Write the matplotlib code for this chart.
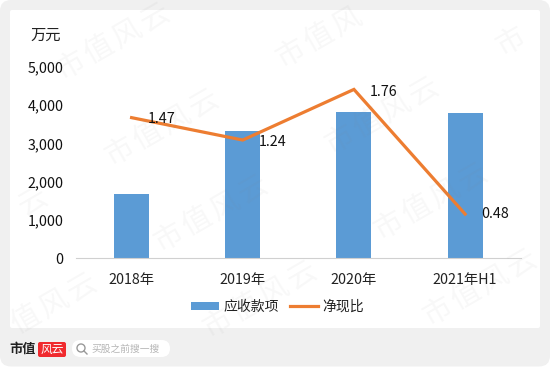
## receivables bars + cash ratio line ##

import math
import matplotlib
matplotlib.use('Agg')
import matplotlib.pyplot as plt
from matplotlib.patches import FancyBboxPatch, Circle
from matplotlib.lines import Line2D

plt.rcParams['font.family'] = ['Noto Sans CJK SC', 'DejaVu Sans']

years = ['2018年', '2019年', '2020年', '2021年H1']
receivables = [1675, 3325, 3830, 3795]
cash_ratio = [1.47, 1.24, 1.76, 0.48]
y_ticks = [0, 1000, 2000, 3000, 4000, 5000]

W, H = 550, 367
fig = plt.figure(figsize=(5.5, 3.67), dpi=100, facecolor='white')

# page background, in pixel coords
bg = fig.add_axes([0, 0, 1, 1], zorder=-1)
bg.set_xlim(0, W)
bg.set_ylim(H, 0)
bg.axis('off')
bg.add_patch(FancyBboxPatch((0, 0), 550, 366.5, boxstyle='round,pad=0,rounding_size=11', lw=0, fc='#f0f0f0'))
bg.add_patch(FancyBboxPatch((10, 10), 530, 318, boxstyle='round,pad=0,rounding_size=2', lw=0, fc='white'))

# footer
bg.text(23, 349, '市值', fontsize=9.5, fontweight='bold', color='#222222', ha='center', va='center')
bg.add_patch(FancyBboxPatch((38, 342), 28, 15, boxstyle='round,pad=0,rounding_size=2', lw=0, fc='#f02a2e'))
bg.text(52, 349, '风云', fontsize=8.5, color='white', ha='center', va='center')
bg.add_patch(FancyBboxPatch((72, 340), 98, 17, boxstyle='round,pad=0,rounding_size=8.5', lw=0, fc='white'))
bg.add_patch(Circle((81, 348), 4, fill=False, ec='#999999', lw=1))
bg.add_line(Line2D([84, 87], [351, 354], color='#999999', lw=1))
bg.text(126, 349, '买股之前搜一搜', fontsize=7, color='#b5b5b5', ha='center', va='center')

# main chart
left, right, top, bottom = 76, 520.7, 67, 258
ax = fig.add_axes([left / W, 1 - bottom / H, (right - left) / W, (bottom - top) / H], zorder=1)
ax.patch.set_alpha(0)
xs = list(range(len(years)))
bars = ax.bar(xs, receivables, width=0.315, color='#5B9BD5', label='应收款项')
ax.set_xlim(-0.5, 3.5)
ax.set_ylim(0, 5000)
ax.set_yticks(y_ticks)
ax.set_yticklabels(['{:,}'.format(v) for v in y_ticks], fontsize=10.3, color='#111111')
ax.set_xticks(xs)
ax.set_xticklabels(years, fontsize=10.3, color='#222222')
ax.tick_params(axis='y', length=0, pad=9)
ax.tick_params(axis='x', length=0, pad=11)
for s in ['top', 'right', 'left']:
    ax.spines[s].set_visible(False)
ax.spines['bottom'].set_color('#d0d0d0')
ax.spines['bottom'].set_linewidth(0.8)

ax2 = ax.twinx()
ax2.set_zorder(2)
ax2.patch.set_alpha(0)
line, = ax2.plot(xs, cash_ratio, color='#ED7D31', lw=2.3, label='净现比', solid_joinstyle='miter')
ax2.set_ylim(0.029, 1.99)
ax2.axis('off')

offsets = [(21.6, -1), (21.6, -1.5), (21.6, -2), (21.6, 0)]
for x, v, off in zip(xs, cash_ratio, offsets):
    ax2.annotate('%.2f' % v, (x, v), xytext=off, textcoords='offset points',
                 fontsize=10.3, color='#111111', ha='center', va='center')

fig.text(46 / W, 1 - 35 / H, '万元', fontsize=11, color='#222222', ha='center', va='center')

fig.legend(handles=[bars, line], labels=['应收款项', '净现比'], loc='center',
           bbox_to_anchor=(277.5 / W, 1 - 307 / H), ncol=2, frameon=False, fontsize=10,
           handlelength=2.0, handleheight=0.55, handletextpad=0.3, columnspacing=0.8,
           labelcolor='#222222')

# watermark on top of everything, one char at a time so the spacing matches
wm = fig.add_axes([0, 0, 1, 1], zorder=5)
wm.set_xlim(0, W)
wm.set_ylim(H, 0)
wm.axis('off')
step = 32
cos30, sin30 = math.cos(math.radians(30)), math.sin(math.radians(30))
for i in range(-2, 5):
    for j in range(-2, 5):
        cx = 113 + 220 * j + 49 * i
        cy = 42 - 12 * j + 86 * i
        for k, ch in enumerate('市值风云'):
            px = cx + (k - 1.5) * step * cos30
            py = cy - (k - 1.5) * step * sin30
            if 18 < px < W - 18 and 18 < py < H - 18:
                wm.text(px, py, ch, fontsize=21, fontweight='light', rotation=30,
                        color='#808080', alpha=0.06, ha='center', va='center')

fig.savefig('out.png', dpi=100)
